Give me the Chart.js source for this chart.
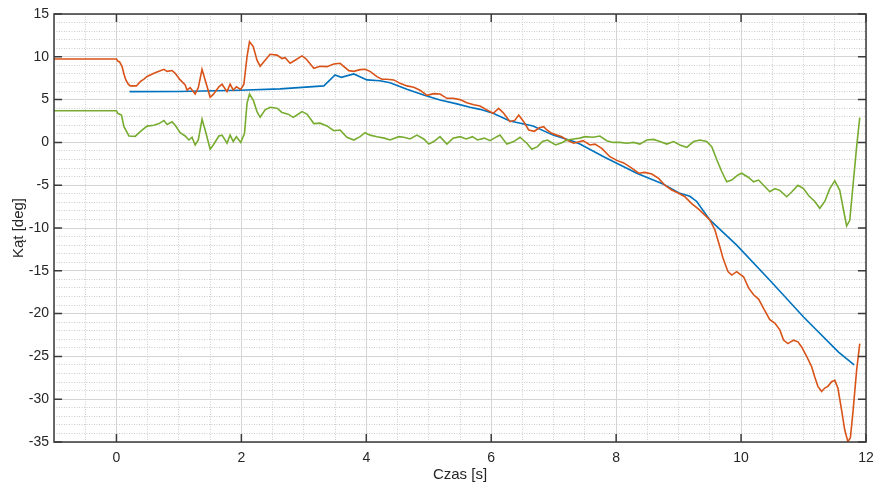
<!DOCTYPE html>
<html lang="pl">
<head>
    <meta charset="UTF-8">
    <title>Kąt w funkcji czasu</title>
    <script src="https://cdn.jsdelivr.net/npm/chart.js"></script>
    <style>
        body { margin: 0; background: #ffffff; }
        #wykres { display: block; }
    </style>
</head>
<body>
    <canvas id="wykres" width="875" height="484"></canvas>
    <script>
        // pomiar 1 (pomaranczowy)
        const orangeT = [-1, 0, 0.02, 0.05, 0.09, 0.12, 0.15, 0.19, 0.22, 0.32, 0.38, 0.44, 0.49, 0.55, 0.6, 0.68, 0.76, 0.81, 0.89, 0.94,
            1.02, 1.1, 1.13, 1.18, 1.26, 1.31, 1.37, 1.42, 1.5, 1.55, 1.64, 1.69, 1.77, 1.82, 1.87, 1.92, 1.99, 2.04, 2.09, 2.13,
            2.19, 2.25, 2.3, 2.38, 2.46, 2.57, 2.65, 2.7, 2.78, 2.86, 2.97, 3.03, 3.16, 3.26, 3.37, 3.48, 3.58, 3.72, 3.8, 3.9,
            3.98, 4.06, 4.17, 4.25, 4.33, 4.44, 4.54, 4.65, 4.76, 4.86, 4.97, 5.08, 5.18, 5.29, 5.39, 5.5, 5.61, 5.72, 5.82, 5.93,
            6.03, 6.12, 6.2, 6.3, 6.38, 6.44, 6.52, 6.6, 6.69, 6.77, 6.84, 6.89, 6.97, 7.05, 7.13, 7.21, 7.32, 7.42, 7.47, 7.58,
            7.66, 7.77, 7.9, 8.01, 8.12, 8.25, 8.36, 8.46, 8.57, 8.68, 8.78, 8.89, 9.0, 9.1, 9.2, 9.32, 9.42, 9.5, 9.58, 9.66,
            9.71, 9.79, 9.85, 9.93, 9.98, 10.04, 10.12, 10.2, 10.28, 10.36, 10.46, 10.54, 10.62, 10.68, 10.75, 10.84, 10.91, 10.97, 11.05, 11.13,
            11.18, 11.23, 11.29, 11.34, 11.39, 11.45, 11.5, 11.55, 11.61, 11.66, 11.71, 11.75, 11.79, 11.85, 11.9];
        const orangeV = [9.75, 9.75, 9.5, 9.4, 8.85, 8.0, 7.3, 6.8, 6.6, 6.6, 7.1, 7.4, 7.7, 7.9, 8.07, 8.3, 8.54, 8.3, 8.4, 8.07,
            7.3, 6.7, 6.1, 6.4, 5.65, 6.4, 8.54, 7.3, 5.27, 5.6, 6.5, 6.8, 5.93, 6.8, 6.1, 6.5, 6.2, 6.8, 10.0, 11.77,
            11.2, 9.6, 8.9, 9.6, 10.3, 10.2, 9.8, 9.9, 9.24, 9.6, 10.1, 9.8, 8.65, 8.9, 8.85, 9.16, 9.24, 8.38, 8.3, 8.5,
            8.54, 8.3, 7.68, 7.37, 7.37, 7.3, 6.9, 6.6, 6.45, 6.1, 5.5, 5.7, 5.65, 5.15, 5.15, 5.0, 4.64, 4.4, 4.25, 3.8,
            3.4, 3.98, 3.4, 2.42, 2.6, 3.2, 2.42, 1.45, 1.3, 1.7, 1.84, 1.45, 1.06, 0.85, 0.67, 0.28, -0.1, 0.1, 0.2, -0.3,
            -0.2, -0.7, -1.67, -2.1, -2.4, -3.0, -3.6, -3.5, -3.7, -4.2, -5.0, -5.56, -5.95, -6.35, -7.1, -7.8, -8.5, -9.06, -10.2, -12.2,
            -13.5, -15.1, -15.5, -15.1, -15.4, -15.7, -17.0, -17.8, -18.3, -19.4, -20.7, -21.1, -21.9, -23.1, -23.5, -23.1, -23.3, -23.9, -25.0, -26.2,
            -27.4, -28.5, -29.1, -28.7, -28.5, -27.95, -27.8, -28.7, -31.3, -33.6, -34.96, -34.5, -31.6, -26.6, -23.5];

        // pomiar 2 (zielony)
        const greenT = [-1, 0, 0.02, 0.08, 0.12, 0.2, 0.3, 0.38, 0.49, 0.6, 0.68, 0.76, 0.81, 0.89, 0.94, 1.02, 1.1, 1.16, 1.21, 1.26,
            1.31, 1.37, 1.42, 1.5, 1.55, 1.64, 1.69, 1.77, 1.82, 1.87, 1.92, 1.99, 2.05, 2.09, 2.13, 2.19, 2.25, 2.3, 2.38, 2.46,
            2.57, 2.65, 2.75, 2.83, 2.89, 2.97, 3.05, 3.16, 3.26, 3.37, 3.48, 3.58, 3.69, 3.8, 3.9, 3.98, 4.06, 4.17, 4.29, 4.38,
            4.52, 4.6, 4.7, 4.81, 4.92, 5.0, 5.08, 5.18, 5.29, 5.39, 5.5, 5.6, 5.7, 5.78, 5.89, 5.98, 6.09, 6.14, 6.25, 6.36,
            6.46, 6.57, 6.65, 6.74, 6.82, 6.9, 7.03, 7.14, 7.21, 7.32, 7.42, 7.5, 7.63, 7.74, 7.85, 7.95, 8.06, 8.17, 8.28, 8.38,
            8.49, 8.6, 8.7, 8.81, 8.92, 9.02, 9.13, 9.24, 9.34, 9.45, 9.53, 9.61, 9.69, 9.77, 9.85, 9.95, 10.01, 10.12, 10.2, 10.28,
            10.36, 10.46, 10.54, 10.62, 10.73, 10.81, 10.91, 11.0, 11.08, 11.18, 11.26, 11.34, 11.42, 11.5, 11.58, 11.64, 11.69, 11.74, 11.79, 11.85, 11.9];
        const greenV = [3.7, 3.7, 3.4, 3.2, 1.84, 0.75, 0.7, 1.25, 1.9, 2.0, 2.2, 2.55, 2.1, 2.4, 2.0, 1.13, 0.75, 0.28, 0.6, -0.3,
            0.28, 2.7, 1.45, -0.8, -0.3, 0.75, 0.85, -0.1, 0.85, 0.1, 0.67, 0.0, 1.06, 4.56, 5.65, 4.95, 3.6, 2.93, 3.8, 4.1,
            4.0, 3.5, 3.3, 2.93, 3.2, 3.6, 3.3, 2.2, 2.25, 1.92, 1.37, 1.45, 0.6, 0.28, 0.67, 1.13, 0.85, 0.67, 0.5, 0.28,
            0.67, 0.6, 0.4, 0.85, 0.4, -0.2, 0.1, 0.67, -0.2, 0.5, 0.67, 0.4, 0.67, 0.28, 0.5, 0.2, 0.67, 0.85, -0.2, 0.1,
            0.6, -0.1, -0.8, -0.5, 0.1, 0.28, -0.3, 0.0, 0.28, 0.4, 0.5, 0.67, 0.6, 0.75, 0.2, 0.0, 0.0, -0.1, 0.0, -0.2,
            0.28, 0.35, 0.1, -0.2, 0.1, -0.3, -0.57, 0.1, 0.28, 0.1, -0.5, -2.0, -3.4, -4.6, -4.4, -3.8, -3.6, -4.1, -4.6, -4.4,
            -5.0, -5.76, -5.4, -5.6, -6.35, -5.8, -5.0, -5.4, -6.2, -6.9, -7.7, -6.9, -5.4, -4.5, -5.6, -7.9, -9.77, -9.1, -5.2, -0.5, 2.9];

        // model (niebieski)
        const blueT = [0.21, 1.0, 1.98, 2.62, 3.32, 3.5, 3.6, 3.8, 4.01, 4.22, 4.38, 4.65, 4.93, 5.18, 5.45, 5.66, 5.82, 6.03, 6.3, 6.67,
            6.99, 7.32, 7.42, 7.8, 8.33, 8.75, 9.02, 9.18, 9.29, 9.5, 9.93, 10.46, 11.0, 11.56, 11.81];
        const blueV = [5.93, 5.95, 6.1, 6.25, 6.6, 7.87, 7.6, 8.0, 7.3, 7.2, 6.97, 6.2, 5.5, 4.95, 4.5, 4.1, 3.86, 3.4, 2.5, 1.92,
            0.85, 0.1, -0.19, -1.67, -3.6, -4.86, -5.95, -6.3, -6.9, -9.06, -12.0, -16.1, -20.4, -24.5, -26.0];

        const xTickLabels = [0, 2, 4, 6, 8, 10, 12];
        const yTickLabels = [-35, -30, -25, -20, -15, -10, -5, 0, 5, 10, 15];

        function toPoints(ts, vs) {
            return ts.map((t, i) => ({ x: t, y: vs[i] }));
        }

        const axisColor = '#3a3a3a';
        const textColor = '#262626';

        // ramka osi i ticki do srodka, jak w MATLABie
        const boxPlugin = {
            id: 'boxPlugin',
            afterDraw(chart) {
                const { ctx, chartArea: a, scales } = chart;
                ctx.save();
                ctx.strokeStyle = axisColor;
                ctx.lineWidth = 1.5;
                ctx.beginPath();
                xTickLabels.forEach(v => {
                    const px = scales.x.getPixelForValue(v);
                    ctx.moveTo(px, a.bottom); ctx.lineTo(px, a.bottom - 8);
                    ctx.moveTo(px, a.top); ctx.lineTo(px, a.top + 8);
                });
                yTickLabels.forEach(v => {
                    const py = scales.y.getPixelForValue(v);
                    ctx.moveTo(a.left, py); ctx.lineTo(a.left + 8, py);
                    ctx.moveTo(a.right, py); ctx.lineTo(a.right - 8, py);
                });
                ctx.stroke();
                ctx.strokeRect(a.left, a.top, a.right - a.left, a.bottom - a.top);
                ctx.restore();
            }
        };

        const isMajorX = v => Math.abs(v / 2 - Math.round(v / 2)) < 1e-6;
        const isMajorY = v => Math.abs(v / 5 - Math.round(v / 5)) < 1e-6;

        const config = {
            type: 'line',
            data: {
                datasets: [
                    {
                        label: 'Pomiar 2',
                        data: toPoints(greenT, greenV),
                        borderColor: '#77AC30',
                        borderWidth: 1.6
                    },
                    {
                        label: 'Pomiar 1',
                        data: toPoints(orangeT, orangeV),
                        borderColor: '#D95319',
                        borderWidth: 1.6
                    },
                    {
                        label: 'Model',
                        data: toPoints(blueT, blueV),
                        borderColor: '#0072BD',
                        borderWidth: 1.6
                    }
                ]
            },
            options: {
                responsive: false,
                animation: false,
                parsing: false,
                elements: {
                    point: { radius: 0 },
                    line: { tension: 0 }
                },
                layout: {
                    padding: { top: 14, right: 9, left: 0, bottom: 0 }
                },
                plugins: {
                    legend: { display: false },
                    tooltip: { enabled: false }
                },
                scales: {
                    x: {
                        type: 'linear',
                        min: -1,
                        max: 12,
                        afterFit: s => {
                            s.height = 42;
                            s.paddingLeft = 0;
                            s.paddingRight = 0;
                        },
                        ticks: {
                            stepSize: 0.5,
                            autoSkip: false,
                            maxRotation: 0,
                            padding: 8,
                            color: textColor,
                            font: { family: 'Liberation Sans', size: 14 },
                            callback: v => (xTickLabels.includes(v) ? String(v) : '')
                        },
                        grid: {
                            drawTicks: false,
                            lineWidth: 1,
                            color: c => (c.tick && isMajorX(c.tick.value) ? '#d4d4d4' : '#cdcdcd')
                        },
                        border: {
                            display: false,
                            dash: c => (c.tick && !isMajorX(c.tick.value) ? [1, 1.5] : [])
                        },
                        title: {
                            display: true,
                            text: 'Czas [s]',
                            color: textColor,
                            font: { family: 'Liberation Sans', size: 15 },
                            padding: { top: -4, bottom: 0 }
                        }
                    },
                    y: {
                        type: 'linear',
                        min: -35,
                        max: 15,
                        afterFit: s => { s.width = 54; },
                        ticks: {
                            stepSize: 1,
                            autoSkip: false,
                            padding: 5,
                            color: textColor,
                            font: { family: 'Liberation Sans', size: 14 },
                            callback: v => (yTickLabels.includes(v) ? String(v) : '')
                        },
                        grid: {
                            drawTicks: false,
                            lineWidth: 1,
                            color: c => (c.tick && isMajorY(c.tick.value) ? '#d4d4d4' : '#cdcdcd')
                        },
                        border: {
                            display: false,
                            dash: c => (c.tick && !isMajorY(c.tick.value) ? [1, 1.5] : [])
                        },
                        title: {
                            display: true,
                            text: 'Kąt [deg]',
                            color: textColor,
                            font: { family: 'Liberation Sans', size: 15 },
                            padding: { top: 10, bottom: 0 }
                        }
                    }
                }
            },
            plugins: [boxPlugin]
        };

        const wykres = new Chart(document.getElementById('wykres'), config);
    </script>
</body>
</html>
